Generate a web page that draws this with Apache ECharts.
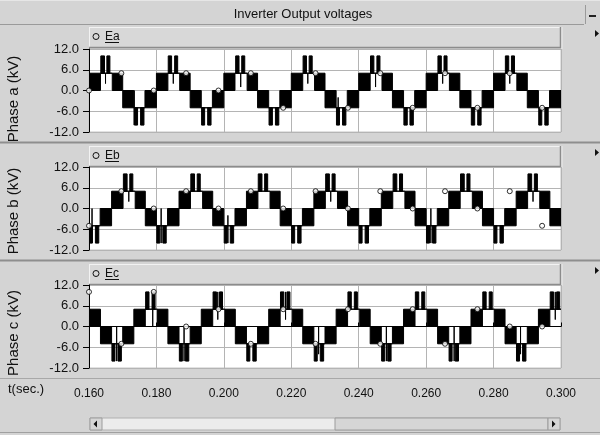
<!DOCTYPE html>
<html><head><meta charset="utf-8">
<script src="https://cdn.jsdelivr.net/npm/echarts@6.0.0/dist/echarts.min.js"></script>
<style>html,body{margin:0;padding:0;background:#d4d4d4}#c{width:600px;height:435px}</style>
</head><body><div id="c"></div>
<script>
// ---- data (time in ms, voltage in kV) ----
const title = 'Inverter Output voltages';
const seriesNames = ['Ea', 'Eb', 'Ec'];
const axisNames = ['Phase a (kV)', 'Phase b (kV)', 'Phase c (kV)'];
const xTicks = [160, 180, 200, 220, 240, 260, 280, 300];
const yTicks = [-12, -6, 0, 6, 12];
// rectangles [tStart, tEnd, low, high]: black blocks = fast switching between levels, thin = single level/line
const phaseA = [
[160.0,163.4,0,5],[163.4,166.9,5,5],[163.5,164.6,5,10],[165.3,166.2,5,10],[164.9,164.9,2,5],[166.9,170.0,0,5],
[170.0,173.3,-5,0],[173.3,176.6,-5,-5],[173.5,174.4,-10,-5],[175.3,176.3,-10,-5],[173.4,173.4,-10,0],[176.6,180.0,-5,0],
[180.0,183.4,0,5],[183.4,186.9,5,5],[183.5,184.5,5,10],[185.4,186.3,5,10],[185.0,185.0,2,5],[186.9,190.0,0,5],
[190.0,193.3,-5,0],[193.3,196.6,-5,-5],[193.4,194.3,-10,-5],[195.2,196.2,-10,-5],[196.6,200.0,-5,0],
[200.0,203.3,0,5],[203.3,206.9,5,5],[203.5,204.5,5,10],[205.3,206.2,5,10],[205.0,205.0,1,5],[206.9,210.0,0,5],
[210.0,213.3,-5,0],[213.3,216.6,-5,-5],[213.4,214.4,-10,-5],[215.3,216.3,-10,-5],[216.6,220.0,-5,0],
[220.0,223.4,0,5],[223.4,226.9,5,5],[223.5,224.5,5,10],[225.3,226.2,5,10],[224.9,224.9,2,5],[226.9,230.0,0,5],
[230.0,233.3,-5,0],[233.3,236.6,-5,-5],[233.4,234.3,-10,-5],[235.2,236.2,-10,-5],[233.9,233.9,-8,-2],[236.6,240.0,-5,0],
[240.0,243.4,0,5],[243.4,246.9,5,5],[243.5,244.5,5,10],[245.4,246.3,5,10],[245.0,245.0,1,5],[246.9,250.0,0,5],
[250.0,253.3,-5,0],[253.3,256.6,-5,-5],[253.4,254.4,-10,-5],[255.2,256.2,-10,-5],[256.6,260.0,-5,0],
[260.0,263.4,0,5],[263.4,266.9,5,5],[263.5,264.5,5,10],[265.3,266.2,5,10],[264.9,264.9,2,5],[266.9,270.0,0,5],
[270.0,273.3,-5,0],[273.3,276.6,-5,-5],[273.4,274.4,-10,-5],[275.3,276.3,-10,-5],[273.0,273.0,-4,0],[276.6,280.0,-5,0],
[280.0,283.4,0,5],[283.4,286.9,5,5],[283.5,284.5,5,10],[285.3,286.2,5,10],[284.8,284.8,2,5],[286.9,290.0,0,5],
[290.0,293.3,-5,0],[293.3,296.6,-5,-5],[293.4,294.3,-10,-5],[295.2,296.2,-10,-5],[296.6,300.0,-5,0]
];
const phaseB = [
[160.0,163.3,-5,-5],[160.1,161.0,-10,-5],[161.9,162.9,-10,-5],[160.9,160.9,-10,0],[163.3,166.7,-5,0],[166.7,170.1,0,5],
[170.1,173.7,5,5],[170.2,171.3,5,10],[172.1,173.0,5,10],[171.8,171.8,2,5],[173.7,176.7,0,5],[176.7,180.0,-5,0],
[180.0,183.3,-5,-5],[180.1,181.0,-10,-5],[181.9,182.9,-10,-5],[181.4,181.4,-10,0],[183.3,186.7,-5,0],[186.7,190.1,0,5],
[190.1,193.7,5,5],[190.2,191.3,5,10],[192.1,193.0,5,10],[193.7,196.7,0,5],[196.7,200.0,-5,0],
[200.0,203.3,-5,-5],[200.1,201.0,-10,-5],[201.9,202.9,-10,-5],[201.2,201.2,-10,-2],[203.3,206.7,-5,0],[206.7,210.1,0,5],
[210.1,213.7,5,5],[210.2,211.3,5,10],[212.1,213.0,5,10],[213.7,216.7,0,5],[216.7,220.0,-5,0],
[220.0,223.3,-5,-5],[220.1,221.0,-10,-5],[221.9,222.9,-10,-5],[223.3,226.7,-5,0],[226.7,230.1,0,5],
[230.1,233.7,5,5],[230.2,231.3,5,10],[232.1,233.0,5,10],[231.7,231.7,2,5],[233.7,236.7,0,5],[236.7,240.0,-5,0],
[240.0,243.3,-5,-5],[240.1,241.0,-10,-5],[241.9,242.9,-10,-5],[243.3,246.7,-5,0],[246.7,250.1,0,5],
[250.1,253.7,5,5],[250.2,251.3,5,10],[252.1,253.0,5,10],[253.7,256.7,0,5],[256.7,260.0,-5,0],
[260.0,263.3,-5,-5],[260.1,261.0,-10,-5],[261.9,262.9,-10,-5],[261.4,261.4,-10,0],[263.3,266.7,-5,0],[266.7,270.1,0,5],
[270.1,273.7,5,5],[270.2,271.3,5,10],[272.1,273.0,5,10],[273.7,276.7,0,5],[276.7,280.0,-5,0],
[280.0,283.3,-5,-5],[280.1,281.0,-10,-5],[281.9,282.9,-10,-5],[283.3,286.7,-5,0],[286.7,290.1,0,5],
[290.1,293.7,5,5],[290.2,291.3,5,10],[292.1,293.0,5,10],[291.7,291.7,2,5],[293.7,296.7,0,5],[296.7,300.0,-5,0]
];
const phaseC = [
[160.0,160.3,5,5],[160.3,163.4,0,5],[163.4,166.7,-5,0],[166.7,170.0,-5,-5],[166.8,167.7,-10,-5],[168.6,169.6,-10,-5],[168.2,168.2,-10,0],
[170.0,173.3,-5,0],[173.3,176.7,0,5],[176.7,180.0,5,5],[176.8,177.8,5,10],[178.7,179.6,5,10],[178.9,178.9,0,10],
[180.0,180.3,5,5],[180.3,183.4,0,5],[183.4,186.7,-5,0],[186.7,190.0,-5,-5],[186.8,187.7,-10,-5],[188.6,189.6,-10,-5],[188.2,188.2,-10,0],
[190.0,193.3,-5,0],[193.3,196.7,0,5],[196.7,200.0,5,5],[196.8,197.8,5,10],[198.7,199.6,5,10],[198.2,198.2,2,10],
[200.0,200.3,5,5],[200.3,203.4,0,5],[203.4,206.7,-5,0],[206.7,210.0,-5,-5],[206.8,207.7,-10,-5],[208.6,209.6,-10,-5],
[210.0,213.3,-5,0],[213.3,216.7,0,5],[216.7,220.0,5,5],[216.8,217.8,5,10],[218.7,219.6,5,10],[218.3,218.3,2,10],
[220.0,220.3,5,5],[220.3,223.4,0,5],[223.4,226.7,-5,0],[226.7,230.0,-5,-5],[226.8,227.7,-10,-5],[228.6,229.6,-10,-5],[228.1,228.1,-8,0],
[230.0,233.3,-5,0],[233.3,236.7,0,5],[236.7,240.0,5,5],[236.8,237.8,5,10],[238.7,239.6,5,10],
[240.0,240.3,5,5],[240.3,243.4,0,5],[243.4,246.7,-5,0],[246.7,250.0,-5,-5],[246.8,247.7,-10,-5],[248.6,249.6,-10,-5],[248.2,248.2,-10,0],
[250.0,253.3,-5,0],[253.3,256.7,0,5],[256.7,260.0,5,5],[256.8,257.8,5,10],[258.7,259.6,5,10],
[260.0,260.3,5,5],[260.3,263.4,0,5],[263.4,266.7,-5,0],[266.7,270.0,-5,-5],[266.8,267.7,-10,-5],[268.6,269.6,-10,-5],[268.3,268.3,-10,0],
[270.0,273.3,-5,0],[273.3,276.7,0,5],[276.7,280.0,5,5],[276.8,277.8,5,10],[278.7,279.6,5,10],
[280.0,280.3,5,5],[280.3,283.4,0,5],[283.4,286.7,-5,0],[286.7,290.0,-5,-5],[286.8,287.7,-10,-5],[288.6,289.6,-10,-5],[288.0,288.0,-8,0],
[290.0,293.3,-5,0],[293.3,296.7,0,5],[296.7,300.0,5,5],[296.8,297.8,5,10],[298.7,299.6,5,10],[298.3,298.3,2,10]
];
// curve markers
const markerTimes = [160,169.6,179.2,188.8,198.4,208,217.6,227.2,236.8,246.4,256,265.6,275.2,284.8,294.4];
const markerA = [0,5,0,5,0,5,-5,5,-5,5,-5,5,-5,5,-5];
const markerB = [-5,5,0,5,0,5,0,5,0,5,0,5,0,5,-5];
const markerC = [10,-5,10,0,5,-5,5,-5,5,-5,5,-5,5,0,0];

// ---- layout ----
const BG = '#d4d4d4';
const FONT = '"Liberation Sans", Arial, sans-serif';
const plotTops = [49, 167, 285];
const plotH = 83;
const headerTops = [27, 146, 264];
const labelCenters = [99, 211, 333];
const phases = [phaseA, phaseB, phaseC];
const markers = [markerA, markerB, markerC];

const grid = plotTops.map(t => ({left: 89, right: 39, top: t, height: plotH, show: true,
  backgroundColor: '#ffffff', borderColor: '#c4c4c4', borderWidth: 1}));

const xAxis = plotTops.map((t, i) => ({
  type: 'value', gridIndex: i, min: xTicks[0], max: xTicks[xTicks.length - 1], interval: 20,
  offset: i === 2 ? 13 : 0,
  axisLine: {show: i === 2, lineStyle: {color: '#000', width: 1}},
  axisTick: {show: i === 2, inside: true, length: 4, lineStyle: {color: '#000'}},
  axisLabel: {show: i === 2, margin: 7, color: '#111', fontSize: 12, fontFamily: FONT,
    formatter: v => (v / 1000).toFixed(3)},
  splitLine: {show: true, lineStyle: {color: '#b4b4b4', width: 1}}
}));
const yAxis = plotTops.map((t, i) => ({
  type: 'value', gridIndex: i, min: yTicks[0], max: yTicks[yTicks.length - 1], interval: 6,
  axisLine: {show: true, onZero: false, lineStyle: {color: '#000', width: 1}},
  axisTick: {show: true, length: 6, lineStyle: {color: '#000'}},
  axisLabel: {margin: 10, color: '#111', fontSize: 13, fontFamily: FONT, formatter: v => v.toFixed(1)},
  splitLine: {show: true, lineStyle: {color: '#b4b4b4', width: 1}}
}));

function renderRect(params, api) {
  const p0 = api.coord([api.value(0), api.value(3)]);
  const p1 = api.coord([api.value(1), api.value(2)]);
  return {type: 'rect', shape: {x: p0[0], y: p0[1], width: Math.max(p1[0] - p0[0], 0), height: Math.max(p1[1] - p0[1], 0)},
    style: {fill: '#000', stroke: '#000', lineWidth: 1}};
}

const series = [];
phases.forEach((d, i) => {
  series.push({type: 'custom', xAxisIndex: i, yAxisIndex: i, renderItem: renderRect, clip: true,
    encode: {x: [0, 1], y: [2, 3]}, data: d, silent: true, z: 2});
  series.push({type: 'scatter', xAxisIndex: i, yAxisIndex: i, symbol: 'circle', symbolSize: 5,
    itemStyle: {color: '#fff', borderColor: '#000', borderWidth: 1}, z: 3, silent: true,
    data: markerTimes.map((t, k) => [t, markers[i][k]])});
});

const graphic = [];
// title bar
graphic.push({type: 'line', shape: {x1: 0, y1: 24.5, x2: 584, y2: 24.5}, style: {stroke: '#9a9a9a', lineWidth: 1}});
graphic.push({type: 'line', shape: {x1: 0, y1: 0.5, x2: 600, y2: 0.5}, style: {stroke: '#e6e6e6', lineWidth: 1}});
graphic.push({type: 'text', x: 303, y: 14, style: {text: title, font: '13px ' + FONT, fill: '#111', textAlign: 'center', textVerticalAlign: 'middle'}});
// minus button
graphic.push({type: 'line', shape: {x1: 585.5, y1: 5, x2: 585.5, y2: 24}, style: {stroke: '#9a9a9a', lineWidth: 1}});
graphic.push({type: 'rect', shape: {x: 589, y: 15, width: 7, height: 2}, style: {fill: '#222'}});
// panel separators
[142.5, 260.5].forEach(y => {
  graphic.push({type: 'line', shape: {x1: 0, y1: y, x2: 600, y2: y}, style: {stroke: '#8e8e8e', lineWidth: 2}});
});
graphic.push({type: 'line', shape: {x1: 0, y1: 378.5, x2: 600, y2: 378.5}, style: {stroke: '#a8a8a8', lineWidth: 1}});
// headers
headerTops.forEach((t, i) => {
  graphic.push({type: 'rect', shape: {x: 89, y: t, width: 471, height: 20}, style: {fill: '#d8d8d8', stroke: null}});
  graphic.push({type: 'line', shape: {x1: 89, y1: t + 0.5, x2: 560, y2: t + 0.5}, style: {stroke: '#f2f2f2', lineWidth: 1}});
  graphic.push({type: 'line', shape: {x1: 89.5, y1: t, x2: 89.5, y2: t + 20}, style: {stroke: '#f2f2f2', lineWidth: 1}});
  graphic.push({type: 'line', shape: {x1: 89, y1: t + 20.5, x2: 561, y2: t + 20.5}, style: {stroke: '#8c8c8c', lineWidth: 1.5}});
  graphic.push({type: 'line', shape: {x1: 560.5, y1: t, x2: 560.5, y2: t + 21}, style: {stroke: '#8c8c8c', lineWidth: 1.5}});
  graphic.push({type: 'line', shape: {x1: 562, y1: t, x2: 562, y2: t + 22}, style: {stroke: '#ececec', lineWidth: 1}});
  graphic.push({type: 'circle', shape: {cx: 96, cy: t + 9.5, r: 3}, style: {fill: 'none', stroke: '#111', lineWidth: 1}});
  graphic.push({type: 'text', x: 105, y: t + 9.5, style: {text: seriesNames[i], font: '12px ' + FONT, fill: '#111', textVerticalAlign: 'middle'}});
  graphic.push({type: 'line', shape: {x1: 105, y1: t + 15.5, x2: 119, y2: t + 15.5}, style: {stroke: '#111', lineWidth: 1}});
  graphic.push({type: 'polygon', shape: {points: [[595, t + 3], [595, t + 10], [599, t + 6.5]]}, style: {fill: '#111'}});
  graphic.push({type: 'text', x: 14, y: labelCenters[i], rotation: Math.PI / 2,
    style: {text: axisNames[i], font: '15px ' + FONT, fill: '#111', textAlign: 'center', textVerticalAlign: 'middle'}});
});
// x axis name
graphic.push({type: 'text', x: 8, y: 389, style: {text: 't(sec.)', font: '13px ' + FONT, fill: '#111', textVerticalAlign: 'middle'}});
// scrollbar
graphic.push({type: 'rect', shape: {x: 90, y: 418, width: 470, height: 12}, style: {fill: '#ececec', stroke: '#b0b0b0', lineWidth: 1}});
graphic.push({type: 'rect', shape: {x: 335, y: 418, width: 213, height: 12}, style: {fill: '#d6d6d6', stroke: '#9c9c9c', lineWidth: 1}});
graphic.push({type: 'rect', shape: {x: 90, y: 418, width: 12, height: 12}, style: {fill: '#d6d6d6', stroke: '#9c9c9c', lineWidth: 1}});
graphic.push({type: 'rect', shape: {x: 548, y: 418, width: 12, height: 12}, style: {fill: '#d6d6d6', stroke: '#9c9c9c', lineWidth: 1}});
graphic.push({type: 'polygon', shape: {points: [[97, 420.5], [97, 427.5], [93.5, 424]]}, style: {fill: '#111'}});
graphic.push({type: 'polygon', shape: {points: [[552, 420.5], [552, 427.5], [555.5, 424]]}, style: {fill: '#111'}});
graphic.push({type: 'line', shape: {x1: 0, y1: 432.5, x2: 600, y2: 432.5}, style: {stroke: '#a0a0a0', lineWidth: 1}});

const chart = echarts.init(document.getElementById('c'), null, {renderer: 'canvas'});
chart.setOption({
  animation: false, backgroundColor: BG,
  grid, xAxis, yAxis, series, graphic
});
</script></body></html>
